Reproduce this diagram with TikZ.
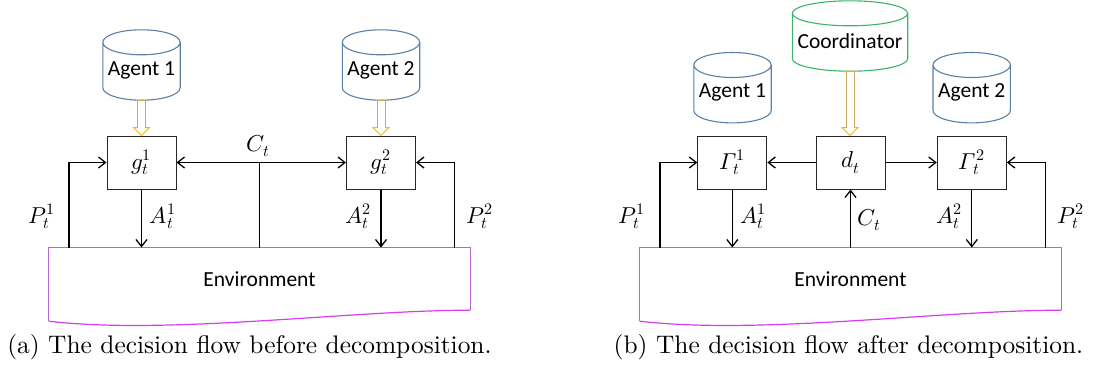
\documentclass[tikz,border=0pt]{standalone}
\usepackage{fontspec}
\usepackage{unicode-math}
\setsansfont{Carlito}
\newfontfamily\capfont{lmroman10-regular.otf}
\usetikzlibrary{arrows.meta,calc}
\definecolor{cylblue}{HTML}{5B80A6}
\definecolor{cylgreen}{HTML}{3DB46D}
\definecolor{envpurple}{HTML}{B565D6}
\definecolor{envmag}{HTML}{D63CF0}
\definecolor{shaftc}{HTML}{C8A862}
\definecolor{headc}{HTML}{F2B51E}
\newcommand{\labfs}{\sffamily\fontsize{21.5}{26}\selectfont}
\newcommand{\mathfs}{\fontsize{23}{27}\selectfont}
\newcommand{\capfs}{\capfont\fontsize{25.4}{30}\selectfont}
\tikzset{
  box/.style={draw=black!85, line width=1pt, minimum width=69pt, minimum height=53pt, inner sep=0pt, font=\mathfs},
  cylnode/.style={inner sep=0pt, minimum width=77pt, minimum height=60pt, font=\labfs},
  envnode/.style={inner sep=0pt, minimum width=421pt, minimum height=62.3pt, font=\labfs},
  lab/.style={inner sep=0pt, font=\mathfs},
  barb/.tip={Straight Barb[length=7pt,width=11pt]},
  arr/.style={line width=1.3pt, -barb},
  ln/.style={line width=1.3pt},
}
% cylinder outline around a node (top of the cylinder is 10pt above the node)
\newcommand{\cylout}[2]{%
  \draw[#2, line width=1.1pt] let \p1=(#1.north west), \p2=(#1.south east), \n1={(\x2-\x1)/2} in
    (\x1+\n1,\y1-2.5pt) ellipse [x radius=\n1, y radius=12.5pt]
    (\x1,\y1-2.5pt) -- (\x1,\y2+12.5pt) arc[start angle=180, end angle=360, x radius=\n1, y radius=12.5pt] -- (\x2,\y1-2.5pt);}
% hollow block arrow from the bottom of #1 to the top of #2
\newcommand{\dblarr}[2]{%
  \draw[shaftc, line width=1pt] let \p1=(#1.south), \p2=(#2.north) in
    (\x1-4pt,\y1) -- (\x1-4pt,\y2+8pt) (\x1+4pt,\y1) -- (\x1+4pt,\y2+8pt);
  \draw[headc, line width=1pt, line join=miter] let \p1=(#1.south), \p2=(#2.north) in
    (\x1-4pt,\y1) -- (\x1+4pt,\y1)
    (\x1-4pt,\y2+8pt) -- (\x1-8pt,\y2+8pt) -- (\x1,\y2) -- (\x1+8pt,\y2+8pt) -- (\x1+4pt,\y2+8pt);}
\begin{document}
\begin{tikzpicture}[x=1pt,y=-1pt]
\useasboundingbox (0,0) rectangle (1101,370);

% ---------------- (a) ----------------
\node[cylnode] (ag1L) at (141.5,70) {Agent 1};
\node[cylnode] (ag2L) at (381,70) {Agent 2};
\cylout{ag1L}{cylblue}
\cylout{ag2L}{cylblue}
\node[box] (g1) at (141.5,162.5) {$g_t^1$};
\node[box] (g2) at (381,162.5) {$g_t^2$};
\dblarr{ag1L}{g1}
\dblarr{ag2L}{g2}
\node[envnode] (env1) at (259.5,278.85) {Environment};
\draw[envpurple, line width=1.2pt] ($(env1.south west)+(0,11)$) -- (env1.north west) -- (env1.north east) -- (env1.south east);
\draw[envmag, line width=1.2pt] ($(env1.south west)+(0,11)$) .. controls +(120,14) and +(-120,0) .. (env1.south east);

\coordinate (p1L) at (69,247.7);
\coordinate (p2L) at (454.3,247.7);
\draw[arr] (p1L) |- (g1.west);
\draw[arr] (p2L) |- (g2.east);
\draw[arr] (g1.south) -- (g1.south |- env1.north);
\draw[arr] (g2.south) -- (g2.south |- env1.north);
\draw[ln, barb-barb] (g1.east) -- (g2.west);
\draw[ln] (env1.north) -- (env1.north |- g1.east);

\node[lab] (ctL) at (258,146) {$C_t$};
\node[lab] (lp1L) at (41.7,216.7) {$P_t^1$};
\node[lab] (la1L) at (162.7,216.7) {$A_t^1$};
\node[lab] (la2L) at (358,216.7) {$A_t^2$};
\node[lab] (lp2L) at (480,216.7) {$P_t^2$};

\node[font=\capfs, anchor=base, inner sep=0pt] (capa) at (249.5,353) {(a) The decision flow before decomposition.};

% ---------------- (b) ----------------
\node[cylnode, minimum width=115pt] (coord) at (850,41) {Coordinator};
\node[cylnode] (ag1R) at (732.5,92.7) {Agent 1};
\node[cylnode] (ag2R) at (971.7,92.7) {Agent 2};
\cylout{coord}{cylgreen}
\cylout{ag1R}{cylblue}
\cylout{ag2R}{cylblue}
\node[box] (G1) at (732.3,162.5) {$\symit{\Gamma}_t^1$};
\node[box] (d) at (850.5,162.5) {$d_t$};
\node[box] (G2) at (971.8,162.5) {$\symit{\Gamma}_t^2$};
\dblarr{coord}{d}
\node[envnode] (env2) at (850.5,278.85) {Environment};
\draw[envpurple, line width=1.2pt] ($(env2.south west)+(0,11)$) -- (env2.north west) -- (env2.north east) -- (env2.south east);
\draw[envmag, line width=1.2pt] ($(env2.south west)+(0,11)$) .. controls +(120,14) and +(-120,0) .. (env2.south east);

\coordinate (p1R) at (660,247.7);
\coordinate (p2R) at (1045.7,247.7);
\draw[arr] (p1R) |- (G1.west);
\draw[arr] (p2R) |- (G2.east);
\draw[arr] (G1.south) -- (G1.south |- env2.north);
\draw[arr] (G2.south) -- (G2.south |- env2.north);
\draw[arr] (d.west) -- (G1.east);
\draw[arr] (d.east) -- (G2.west);
\draw[arr] (env2.north) -- (d.south);

\node[lab] (lp1R) at (631.7,216.7) {$P_t^1$};
\node[lab] (la1R) at (753.3,216.7) {$A_t^1$};
\node[lab] (ctR) at (869.3,220) {$C_t$};
\node[lab] (la2R) at (949.3,216.7) {$A_t^2$};
\node[lab] (lp2R) at (1071,216.7) {$P_t^2$};

\node[font=\capfs, anchor=base, inner sep=0pt] (capb) at (848.5,353) {(b) The decision flow after decomposition.};
\end{tikzpicture}
\end{document}
